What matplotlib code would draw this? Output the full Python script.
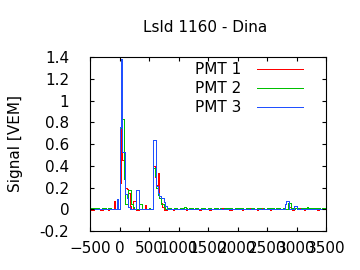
import numpy as np
import matplotlib
matplotlib.use("Agg")
import matplotlib.pyplot as plt
from matplotlib.ticker import FuncFormatter

# time bins (ns): 25 ns wide from -500 to 3500
bin_start = -500
bin_width = 25
n_bins = 160

pmt1 = [
    0, -0.01, -0.01, 0, 0, 0.01, 0, -0.01, -0.01, 0, 0, 0, -0.01, 0, 0, 0, 0.08, 0, 0.04, 0,
    0.24, 1.23, 0.45, 0.42, 0.20, 0.19, 0.15, 0.03, 0, 0.08, 0.08, -0.01, -0.01, 0, 0, 0, 0, 0.04, 0, 0,
    0, 0, 0, 0.40, 0.30, 0.22, 0.33, 0.12, 0.06, 0.02, -0.01, -0.01, 0, 0, 0.01, 0, -0.01, 0, 0, 0,
    0, 0, 0.01, 0, 0, -0.01, 0, 0, 0.01, 0.01, 0, 0, 0, 0, -0.01, 0, 0, 0.01, 0, 0,
    0, -0.01, 0, 0, 0.01, 0, 0, 0, 0, 0.01, 0.01, 0, 0, 0, -0.01, -0.01, 0, 0, 0, 0.01,
    0, 0, 0, -0.01, 0, 0, 0, 0.01, 0.01, 0, 0, 0, 0, -0.01, 0, 0, 0.01, 0, 0, 0,
    0, 0, -0.01, 0, 0, 0, 0.01, 0, 0, 0, 0, 0, 0, 0, 0.02, 0.02, 0.01, -0.01, 0, 0.01,
    0, 0, 0.01, 0, 0, -0.01, 0, 0, 0.01, 0, 0, 0, 0, 0, -0.01, 0, 0, 0, 0.01, 0,
]
pmt2 = [
    0.01, 0.01, 0, 0.01, 0.01, 0.01, 0, 0, 0.01, 0.01, 0.01, 0, 0.01, 0.01, 0, 0, 0, 0, 0, 0,
    0.75, 1.02, 0.83, 0.28, 0.05, 0.05, 0.18, 0.18, 0.05, 0.02, 0, 0, 0, 0.05, 0.05, 0, 0, 0, 0, 0,
    0.01, 0, 0, 0.38, 0.31, 0.20, 0.13, 0.10, 0.05, 0.05, 0.02, 0, 0, 0.01, 0.01, 0, 0, 0.01, 0.01, 0,
    0, 0.01, 0.01, 0, 0.02, 0.01, 0, 0.01, 0.01, 0.01, 0, 0.01, 0.01, 0, 0, 0.01, 0.01, 0.01, 0, 0,
    0.01, 0.01, 0, 0, 0.01, 0.01, 0.01, 0, 0.01, 0, 0, 0.01, 0.01, 0.01, 0, 0.01, 0, 0, 0.01, 0.01,
    0, 0.01, 0.01, 0.01, 0, 0, 0.01, 0.01, 0, 0.01, 0.01, 0, 0, 0.01, 0.01, 0.01, 0, 0.01, 0, 0,
    0.01, 0.01, 0, 0.01, 0.01, 0, 0.01, 0.01, 0.01, 0, 0, 0.01, 0, 0, 0.06, 0.06, 0.01, 0.01, 0, 0.01,
    0.01, 0.01, 0, 0.01, 0.01, 0, 0.01, 0.02, 0.01, 0, 0.01, 0.01, 0.01, 0, 0.01, 0.01, 0, 0.01, 0.01, 0.01,
]
pmt3 = [
    0, 0, 0, 0, 0, 0, 0, 0, 0, 0, 0, 0, 0, 0, 0, 0, 0, 0, 0.09, 0,
    0.76, 1.38, 0.53, 0.53, 0.14, 0.10, 0.02, 0, 0, 0, 0, 0.18, 0.18, 0, 0, 0, 0, 0, 0, 0,
    0, 0, 0, 0.64, 0.64, 0.21, 0.15, 0.12, 0.10, 0.10, 0.07, 0.03, 0, 0, 0, 0, 0, 0, 0, 0,
    0, 0, 0, 0, 0, 0, 0, 0, 0, 0, 0, 0, 0, 0, 0, 0, 0, 0, 0, 0,
    0, 0, 0, 0, 0, 0, 0, 0, 0, 0, 0, 0, 0, 0, 0, 0, 0, 0, 0, 0,
    0, 0, 0, 0, 0, 0, 0, 0, 0, 0, 0, 0, 0, 0, 0, 0, 0, 0, 0, 0,
    0, 0, 0, 0, 0, 0, 0, 0, 0, 0, 0, 0, 0.05, 0.08, 0.08, 0, 0, 0, 0.03, 0.03,
    0, 0, 0, 0, 0, 0, 0, 0, 0, 0, 0, 0, 0, 0, 0, 0, 0, 0, 0, 0,
]
labels = ["PMT 1", "PMT 2", "PMT 3"]
colors = ["#ff0000", "#00c000", "#2050ff"]
title = "Lsld 1160 - Dina"
ylabel = "Signal [VEM]"
xticks = [-500, 0, 500, 1000, 1500, 2000, 2500, 3000, 3500]
yticks = [-0.2, 0, 0.2, 0.4, 0.6, 0.8, 1.0, 1.2, 1.4]

plt.rcParams['font.family'] = ['DejaVu Sans']
fig = plt.figure(figsize=(3.6, 2.7), dpi=100)
ax = fig.add_axes([0.25, 0.1444, 0.6556, 0.6445])

edges = bin_start + bin_width * np.arange(n_bins + 1)
for vals, lab, col in zip([pmt1, pmt2, pmt3], labels, colors):
    ax.stairs(vals, edges, color=col, lw=0.72, label=lab, baseline=None,
              antialiased=False)

ax.set_xlim(-500, 3500)
ax.set_ylim(-0.2, 1.4)
ax.set_xticks(xticks)
ax.set_yticks(yticks)
ax.yaxis.set_major_formatter(FuncFormatter(lambda v, p: "%g" % round(v, 2)))
ax.tick_params(direction='in', length=3, width=0.8, top=True, right=True,
               labelsize=11, colors='black')
ax.tick_params(axis='x', pad=7)
ax.tick_params(axis='y', pad=15)
for s in ax.spines.values():
    s.set_linewidth(0.8)

fig.text(0.57, 0.9, title, ha='center', va='center', fontsize=11)
fig.text(0.042, 0.4667, ylabel, ha='center', va='center', rotation=90, fontsize=11)

leg = ax.legend(loc='upper right', bbox_to_anchor=(0.923, 1.0), frameon=False,
                markerfirst=False, handlelength=3.0, handletextpad=1.0,
                labelspacing=0.27, fontsize=11, borderpad=0.33, borderaxespad=0)
for h in leg.get_lines():
    h.set_antialiased(False)
    h.set_linewidth(0.72)

fig.savefig("out.png", dpi=100)
